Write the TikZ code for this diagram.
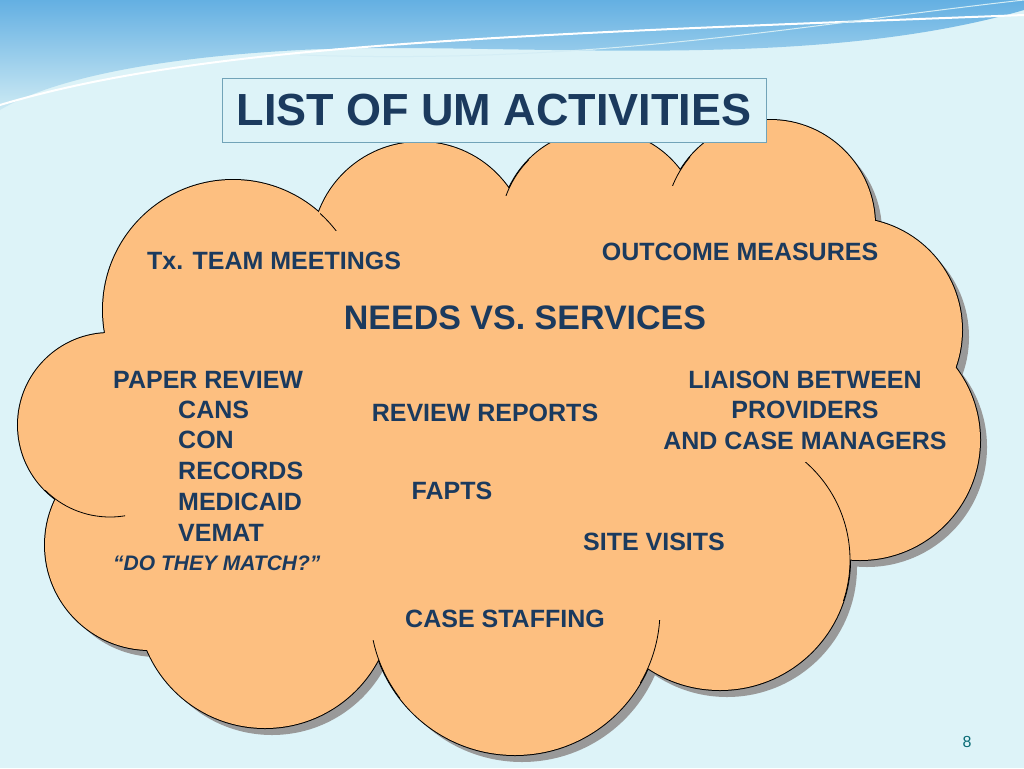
\documentclass[tikz,border=0pt]{standalone}
\usepackage{fontspec}
\setmainfont{Liberation Sans}
\definecolor{bg}{HTML}{DDF3F8}
\definecolor{cloud}{HTML}{FDBF80}
\definecolor{navy}{HTML}{1B3A5E}
\definecolor{wave}{HTML}{6FC3DF}
\begin{document}
\begin{tikzpicture}[x=1pt,y=-1pt,
  lbl/.style={font=\fontsize{25}{29}\selectfont\bfseries,text=navy,inner sep=0pt},
  lft/.style={lbl,anchor=west}]
\useasboundingbox (0,0) rectangle (1024,768);
\fill[bg] (0,0) rectangle (1024,768);
% top wave
\shade[top color=wave!90!blue,bottom color=wave!35!white] (0,0) -- (1024,0) -- (1024,10) .. controls (800,75) and (500,40) .. (300,50) .. controls (150,58) and (50,80) .. (0,110) -- cycle;
\draw[white,line width=2pt] (0,105) .. controls (200,45) and (500,35) .. (1024,15);
\draw[white!70!wave,line width=1pt] (300,55) .. controls (600,65) and (800,25) .. (1024,0);
\def\circles{233/310/130,420/250/108,600/230/100,770/225/105,850/330/112,860/440/120,720/560/130,515/610/145,265/600/128,150/545/105,110/425/92}
% shadow
\foreach \x/\y/\r in \circles {\fill[gray!80] (\x+7,\y+7) circle[radius=\r];}
\fill[gray!80] (507,437) ellipse[x radius=330,y radius=220];
% outlines
\foreach \x/\y/\r in \circles {\draw[black,line width=2pt] (\x,\y) circle[radius=\r];}
% fill
\foreach \x/\y/\r in \circles {\fill[cloud] (\x,\y) circle[radius=\r];}
\fill[cloud] (500,430) ellipse[x radius=330,y radius=220];
% inner arcs
\begin{scope}\clip (775,462) rectangle (860,600); \draw[line width=0.8pt] (720,560) circle[radius=130];\end{scope}
\begin{scope}\clip (900,340) rectangle (940,390); \draw[line width=0.8pt] (850,330) circle[radius=112];\end{scope}
\begin{scope}\clip (320,200) rectangle (370,230); \draw[line width=0.8pt] (233,310) circle[radius=130];\end{scope}
\begin{scope}\clip (505,160) rectangle (530,195); \draw[line width=0.8pt] (600,230) circle[radius=100];\end{scope}
\begin{scope}\clip (660,150) rectangle (690,185); \draw[line width=0.8pt] (770,225) circle[radius=105];\end{scope}
\begin{scope}\clip (360,640) rectangle (400,720); \draw[line width=0.8pt] (515,610) circle[radius=145];\end{scope}
\begin{scope}\clip (640,620) rectangle (670,700); \draw[line width=0.8pt] (515,610) circle[radius=145];\end{scope}
\begin{scope}\clip (40,490) rectangle (125,520); \draw[line width=0.8pt] (110,425) circle[radius=92];\end{scope}
% title
\node[draw=gray!60!cyan,fill=bg,line width=0.8pt,minimum width=544pt,minimum height=64pt,inner sep=0pt] (title) at (494,110) {};
\node[font=\fontsize{45}{49}\selectfont\bfseries,text=navy] (tt) at (title.center) {LIST OF UM ACTIVITIES};
% labels
\node[lft] (tx) at (147,261) {Tx. TEAM MEETINGS};
\node[lbl] (om) at (740,252) {OUTCOME MEASURES};
\node[lbl,font=\fontsize{34}{38}\selectfont\bfseries] (nv) at (525,318) {NEEDS VS. SERVICES};
\node[lft] (pr) at (113,380) {PAPER REVIEW};
\node[lft] (c1) at (178,410) {CANS};
\node[lft] (c2) at (178,440) {CON};
\node[lft] (c3) at (178,471) {RECORDS};
\node[lft] (c4) at (178,502) {MEDICAID};
\node[lft] (c5) at (178,533) {VEMAT};
\node[lft,font=\fontsize{21}{24}\selectfont\bfseries\itshape] (dm) at (113,563) {“DO THEY MATCH?”};
\node[lbl] (rr) at (485,413) {REVIEW REPORTS};
\node[lbl,align=center,font=\fontsize{25}{30.5}\selectfont\bfseries] (li) at (805,410) {LIAISON BETWEEN\\PROVIDERS\\AND CASE MANAGERS};
\node[lbl] (fa) at (452,491) {FAPTS};
\node[lbl] (sv) at (654,542) {SITE VISITS};
\node[lbl] (cs) at (505,619) {CASE STAFFING};
\node[font=\fontsize{16}{18}\selectfont,text=teal!70!navy] (pg) at (967,742) {8};
\end{tikzpicture}
\end{document}
